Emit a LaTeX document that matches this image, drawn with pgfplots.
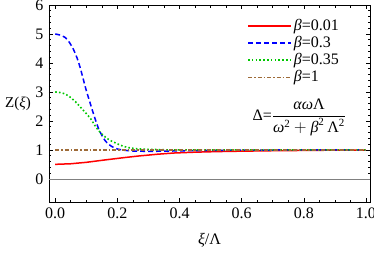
\documentclass[border=0pt]{standalone}
\usepackage{fontspec}
\setmainfont{Liberation Serif}
\usepackage{pgfplots}
\pgfplotsset{compat=1.18}
\definecolor{cbrown}{rgb}{0.62,0.42,0.22}
\definecolor{cgreen}{rgb}{0,0.78,0}
\newcommand\sq{^{\mbox{\fontsize{11}{12}\selectfont 2}}}
\begin{document}
\fontsize{16}{18}\selectfont
\begin{tikzpicture}
\begin{axis}[
  scale only axis, width=321pt, height=197pt,
  xmin=-0.02, xmax=1.013, ymin=-0.8, ymax=6,
  xtick={0,0.2,0.4,0.6,0.8,1},
  xticklabels={0.0,0.2,0.4,0.6,0.8,1.0},
  ytick={0,1,2,3,4,5,6},
  minor x tick num=3, minor y tick num=4,
  xtick pos=both, ytick pos=both,
  xticklabel pos=lower, yticklabel pos=left,
  tick align=inside, major tick length=4pt, minor tick length=2.5pt,
  every tick/.style={black, line width=0.6pt},
  axis line style={line width=0.8pt},
  /pgf/number format/assume math mode=true,
  ticklabel style={font=\fontsize{16}{18}\selectfont},
  xlabel={\textit{ξ}/Λ}, ylabel={Z(\textit{ξ})},
  every axis x label/.style={at={(axis description cs:0.5,0)}, anchor=center, yshift=-38pt},
  every axis y label/.style={at={(axis description cs:0,0.5)}, anchor=west, xshift=-44pt, inner sep=0pt, font=\fontsize{15}{17}\selectfont},
  legend style={at={(axis description cs:0.617,0.94)}, anchor=north west, draw=none, fill=none,
    font=\fontsize{16}{18}\selectfont, row sep=-0.5pt, inner sep=0pt},
  legend cell align=left,
  legend image code/.code={\draw[#1] (0pt,0pt) -- (43pt,0pt);},
]
\coordinate (ll) at (rel axis cs:0,0);
\addplot[gray, line width=0.6pt, forget plot] coordinates {(-0.02,0) (1.013,0)};
\addplot[red, line width=1.5pt] coordinates {
(0,0.50) (0.05,0.52) (0.1,0.57) (0.166,0.66) (0.22,0.73) (0.27,0.79) (0.33,0.85)
(0.38,0.89) (0.45,0.92) (0.52,0.94) (0.6,0.955) (0.7,0.97) (0.8,0.98) (0.9,0.99) (1.0,0.995)};
\addlegendentry{\textit{β}=0.01}
\addplot[blue, line width=1.5pt, dash pattern=on 5pt off 3pt, smooth] coordinates {
(0,5.00) (0.02,4.95) (0.032,4.88) (0.045,4.72) (0.059,4.46) (0.07,4.18) (0.08,3.85)
(0.09,3.45) (0.10,3.05) (0.11,2.70) (0.12,2.35) (0.13,2.02) (0.14,1.72) (0.15,1.50)
(0.16,1.33) (0.17,1.21) (0.18,1.13) (0.19,1.07) (0.20,1.03) (0.22,0.99) (0.25,0.96)
(0.30,0.95) (0.35,0.955) (0.40,0.965) (0.5,0.98) (0.6,0.99) (0.7,0.995) (0.8,1.0) (1.0,1.0)};
\addlegendentry{\textit{β}=0.3}
\addplot[cgreen, line width=1.6pt, dash pattern=on 1.6pt off 2.2pt, smooth] coordinates {
(0,3.00) (0.02,2.97) (0.035,2.91) (0.048,2.82) (0.065,2.66) (0.08,2.49) (0.095,2.31)
(0.113,2.09) (0.129,1.82) (0.145,1.60) (0.166,1.40) (0.18,1.31) (0.198,1.22) (0.215,1.14)
(0.235,1.08) (0.26,1.04) (0.29,1.02) (0.33,1.01) (0.4,1.0) (1.0,1.0)};
\addlegendentry{\textit{β}=0.35}
\addplot[cbrown, line width=1.5pt, dash pattern=on 4pt off 2pt on 1.5pt off 2pt] coordinates {(0,1) (1,1)};
\addlegendentry{\textit{β}=1}
\node at (rel axis cs:0.78,0.43) {Δ=$\displaystyle\frac{\mbox{\itshape αω}\mbox{Λ}}{\mbox{\itshape ω}\sq+\mbox{\itshape β}\sq\,\mbox{Λ}\sq}$};
\end{axis}
\pgfresetboundingbox
\path (ll) ++(-49pt,-56pt) rectangle ++(374pt,258pt);
\end{tikzpicture}
\end{document}
